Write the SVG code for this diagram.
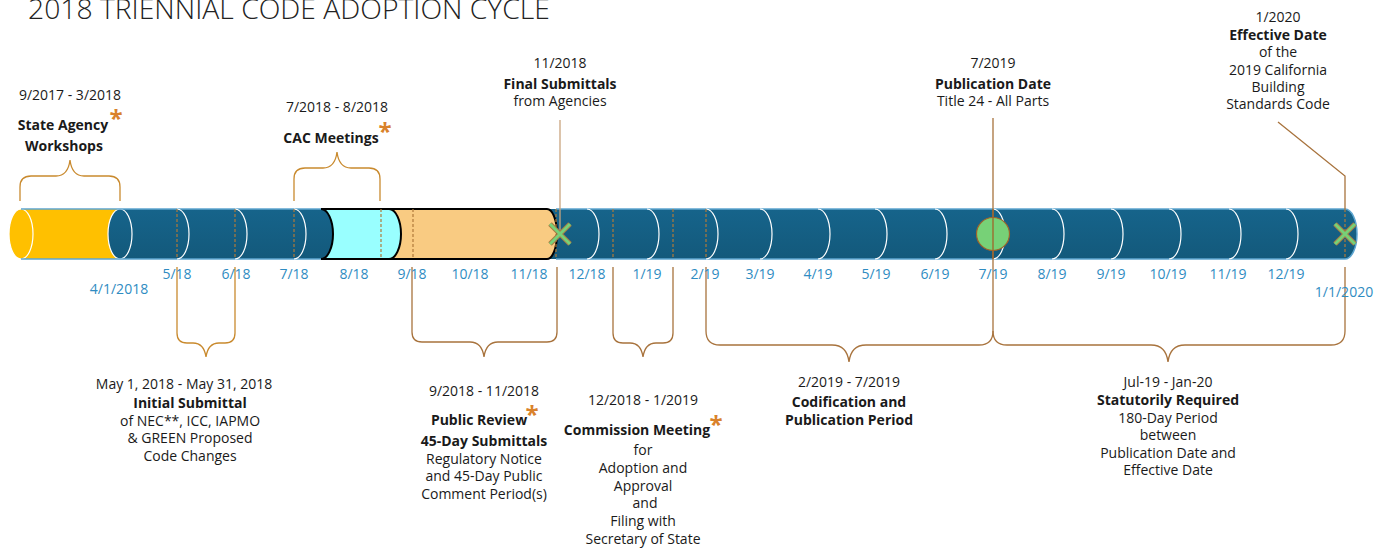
<svg xmlns="http://www.w3.org/2000/svg" width="1389" height="548" viewBox="0 0 1389 548">
<defs>
<linearGradient id="blueG" x1="0" y1="0" x2="0" y2="1">
<stop offset="0" stop-color="#16648B"/>
<stop offset="1" stop-color="#13597B"/>
</linearGradient>
<style>
text{font-family:"Open Sans","Noto Sans","DejaVu Sans",sans-serif;font-size:14px;fill:#1a1a1a;text-anchor:middle}
.b{font-weight:700}
.ax{font-size:14px;fill:#2F8CC2}
.ast{font-size:24px;font-weight:700;fill:#D9822B}
.title{font-size:27px;font-weight:300;text-anchor:start;fill:#222}
.brG{fill:none;stroke:#C98A2E;stroke-width:1.3}
.brB{fill:none;stroke:#A8733D;stroke-width:1.3}
.dash{fill:none;stroke:#B07A3A;stroke-width:1.2;stroke-dasharray:3 2}
.arc{fill:none;stroke:#FFFFFF;stroke-width:1.2}
.edge{fill:none;stroke:#5DA5D0;stroke-width:1.5}
.blk{fill:none;stroke:#000;stroke-width:2}
</style>
</defs>
<rect width="1389" height="548" fill="#FFFFFF"/>
<text class="title" x="28" y="19" textLength="522" lengthAdjust="spacingAndGlyphs">2018 TRIENNIAL CODE ADOPTION CYCLE</text>

<g id="bar">
<path d="M540,209 H1345 A12 25 0 0 1 1345,259 H540 Z" fill="url(#blueG)"/>
<path d="M380,209 H547 A10 25 0 0 1 547,259 H380 Z" fill="#F9CB82"/>
<path d="M310,209 H389 A12 25 0 0 1 389,259 H310 Z" fill="#99FFFF"/>
<path d="M120,209 H321 A12 25 0 0 1 321,259 H120 Z" fill="url(#blueG)"/>
<rect x="21" y="209" width="99" height="50" fill="#FFC000"/>
<ellipse cx="21" cy="234" rx="12" ry="25" fill="#FFC000" stroke="#FFFFFF" stroke-width="1.2"/>
<ellipse cx="120" cy="234" rx="12" ry="25" fill="url(#blueG)" stroke="#FFFFFF" stroke-width="1.2"/>
<path class="edge" d="M21,209 H321 M21,259 H321 M556,209 H1345 M556,259 H1345"/>
<path class="edge" d="M1345,209 A12 25 0 0 1 1345,259"/>
<g id="arcs">
<path class="arc" d="M177,209 A12 25 0 0 1 177,259 M235,209 A12 25 0 0 1 235,259 M294,209 A12 25 0 0 1 294,259"/>
<path class="arc" d="M587,209 A12 25 0 0 1 587,259 M647,209 A12 25 0 0 1 647,259 M706,209 A12 25 0 0 1 706,259 M760,209 A12 25 0 0 1 760,259 M818,209 A12 25 0 0 1 818,259 M875,209 A12 25 0 0 1 875,259 M935,209 A12 25 0 0 1 935,259 M993,209 A12 25 0 0 1 993,259 M1052,209 A12 25 0 0 1 1052,259 M1111,209 A12 25 0 0 1 1111,259 M1169,209 A12 25 0 0 1 1169,259 M1229,209 A12 25 0 0 1 1229,259 M1286,209 A12 25 0 0 1 1286,259"/>
</g>
<path class="blk" d="M321,209 H547 A10 25 0 0 1 547,259 H321"/>
<path class="blk" d="M321,209 A12 25 0 0 1 321,259 M389,209 A12 25 0 0 1 389,259"/>
<path class="dash" d="M177,209 V259 M235,209 V259 M294,209 V259 M381,209 V259 M413,209 V259 M556,209 V259 M613,209 V259 M673,209 V259 M706,209 V259 M1345,209 V259"/>
</g>

<g id="connectors">
<path class="brG" d="M20,201 V187 Q20,176 31,176 H56 Q68,176 70,160 Q72,176 84,176 H109 Q120,176 120,187 V201"/>
<path class="brG" d="M294,201 V179 Q294,168 305,168 H323 Q335,168 337,152 Q339,168 351,168 H369 Q380,168 380,179 V201"/>
<path d="M560,120 V234" fill="none" stroke="#C9A47E" stroke-width="1.3"/>
<path class="brB" d="M993,118 V331 Q993,345 979,345 H866 Q851,345 849,362 Q847,345 832,345 H720 Q706,345 706,331 V267"/>
<path class="brB" d="M993,331 Q993,345 1007,345 H1151 Q1166,345 1168,362 Q1170,345 1185,345 H1331 Q1345,345 1345,331 V267"/>
<path class="brB" d="M1278,122 L1345,176 V209"/>
<path class="brG" d="M177,267 V333 Q177,343 187,343 H193 Q204,343 206,357 Q208,343 219,343 H225 Q235,343 235,333 V267"/>
<path class="brB" d="M412,267 V332 Q412,342 422,342 H470 Q482,342 484,357 Q486,342 498,342 H547 Q557,342 557,332 V267"/>
<path class="brB" d="M613,267 V333 Q613,343 623,343 H630 Q641,343 643,357 Q645,343 656,343 H663 Q673,343 673,333 V267"/>
</g>

<g id="markers">
<circle cx="993" cy="234" r="16.5" fill="#77D177" stroke="#A0642A" stroke-width="1.2"/>
<path d="M993,209 V259" stroke="#A0642A" stroke-width="1.3"/>
<g id="x1" transform="translate(560,234)">
<path d="M-10,-10 L10,10 M10,-10 L-10,10" stroke="#A67C45" stroke-width="5"/>
<path d="M-10,-10 L10,10 M10,-10 L-10,10" stroke="#77D177" stroke-width="3"/>
</g>
<g id="x2" transform="translate(1345,234)">
<path d="M-10,-10 L10,10 M10,-10 L-10,10" stroke="#A67C45" stroke-width="5"/>
<path d="M-10,-10 L10,10 M10,-10 L-10,10" stroke="#77D177" stroke-width="3"/>
</g>
</g>

<g id="axis-labels">
<text class="ax" x="119" y="294">4/1/2018</text>
<text class="ax" x="177" y="279">5/18</text>
<text class="ax" x="236" y="279">6/18</text>
<text class="ax" x="294" y="279">7/18</text>
<text class="ax" x="354" y="279">8/18</text>
<text class="ax" x="412" y="279">9/18</text>
<text class="ax" x="470" y="279">10/18</text>
<text class="ax" x="529" y="279">11/18</text>
<text class="ax" x="587" y="279">12/18</text>
<text class="ax" x="647" y="279">1/19</text>
<text class="ax" x="705" y="279">2/19</text>
<text class="ax" x="760" y="279">3/19</text>
<text class="ax" x="818" y="279">4/19</text>
<text class="ax" x="876" y="279">5/19</text>
<text class="ax" x="935" y="279">6/19</text>
<text class="ax" x="993" y="279">7/19</text>
<text class="ax" x="1052" y="279">8/19</text>
<text class="ax" x="1111" y="279">9/19</text>
<text class="ax" x="1168" y="279">10/19</text>
<text class="ax" x="1228" y="279">11/19</text>
<text class="ax" x="1286" y="279">12/19</text>
<text class="ax" x="1344" y="297">1/1/2020</text>
</g>

<g id="node-workshops">
<text x="70" y="100">9/2017 - 3/2018</text>
<text class="b" x="63" y="130">State Agency</text>
<text class="ast" x="116" y="127">*</text>
<text class="b" x="64" y="151">Workshops</text>
</g>
<g id="node-cac">
<text x="337" y="112">7/2018 - 8/2018</text>
<text class="b" x="331" y="143">CAC Meetings</text>
<text class="ast" x="385" y="140">*</text>
</g>
<g id="node-final">
<text x="560" y="68">11/2018</text>
<text class="b" x="560" y="89">Final Submittals</text>
<text x="560" y="106">from Agencies</text>
</g>
<g id="node-publication">
<text x="993" y="68">7/2019</text>
<text class="b" x="993" y="89">Publication Date</text>
<text x="993" y="106">Title 24 - All Parts</text>
</g>
<g id="node-effective">
<text x="1278" y="22">1/2020</text>
<text class="b" x="1278" y="40">Effective Date</text>
<text x="1278" y="57">of the</text>
<text x="1278" y="75">2019 California</text>
<text x="1278" y="92">Building</text>
<text x="1278" y="109">Standards Code</text>
</g>
<g id="node-initial">
<text x="184" y="389">May 1, 2018 - May 31, 2018</text>
<text class="b" x="190" y="408">Initial Submittal</text>
<text x="190" y="426">of NEC**, ICC, IAPMO</text>
<text x="190" y="443">&amp; GREEN Proposed</text>
<text x="190" y="461">Code Changes</text>
</g>
<g id="node-public">
<text x="484" y="396">9/2018 - 11/2018</text>
<text class="b" x="479" y="425">Public Review</text>
<text class="ast" x="532" y="423">*</text>
<text class="b" x="484" y="446">45-Day Submittals</text>
<text x="484" y="464">Regulatory Notice</text>
<text x="484" y="481">and 45-Day Public</text>
<text x="484" y="499">Comment Period(s)</text>
</g>
<g id="node-commission">
<text x="643" y="405">12/2018 - 1/2019</text>
<text class="b" x="637" y="435">Commission Meeting</text>
<text class="ast" x="716" y="433">*</text>
<text x="643" y="455">for</text>
<text x="643" y="473">Adoption and</text>
<text x="643" y="491">Approval</text>
<text x="645" y="508">and</text>
<text x="643" y="526">Filing with</text>
<text x="643" y="544">Secretary of State</text>
</g>
<g id="node-codification">
<text x="849" y="387">2/2019 - 7/2019</text>
<text class="b" x="849" y="407">Codification and</text>
<text class="b" x="849" y="425">Publication Period</text>
</g>
<g id="node-statutory">
<text x="1168" y="387">Jul-19 - Jan-20</text>
<text class="b" x="1168" y="405">Statutorily Required</text>
<text x="1168" y="423">180-Day Period</text>
<text x="1168" y="440">between</text>
<text x="1168" y="458">Publication Date and</text>
<text x="1168" y="475">Effective Date</text>
</g>
</svg>
